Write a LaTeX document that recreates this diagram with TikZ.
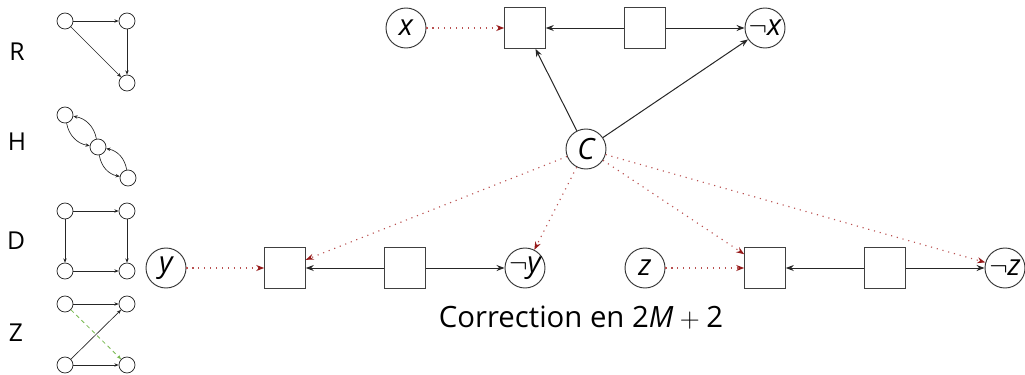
\documentclass[tikz,border=0pt]{standalone}
\usepackage{fontspec}
\setmainfont{Open Sans}
\usetikzlibrary{arrows.meta}
\definecolor{dred}{RGB}{150,25,25}
\definecolor{lred}{RGB}{185,80,80}
\definecolor{lgreen}{RGB}{120,185,80}
\begin{document}
\begin{tikzpicture}[x=0.75pt,y=-0.75pt,
  var/.style={circle, draw=black!80, line width=0.7pt, minimum size=30pt, inner sep=0pt, font=\fontsize{22}{26}\selectfont\itshape},
  gbox/.style={draw=black!75, line width=0.7pt, minimum size=30.5pt, inner sep=0pt},
  sm/.style={circle, draw=black!85, line width=0.55pt, minimum size=12pt, inner sep=0pt},
  lbl/.style={font=\fontsize{18.5}{22}\selectfont},
  arr/.style={draw=black!85, line width=0.75pt, -{Stealth[length=6pt,width=4.5pt]}},
  rdot/.style={draw=lred, line width=0.85pt, dash pattern=on 0.85pt off 3.6pt, -{Stealth[length=6pt,width=4.5pt,color=dred]}},
  sarr/.style={draw=black!85, line width=0.5pt, -{Stealth[length=3.2pt,width=2.6pt]}},
  gdash/.style={draw=lgreen, line width=0.6pt, dash pattern=on 3pt off 2.5pt, -{Stealth[length=3.2pt,width=2.6pt]}}
]
\useasboundingbox (0,0) rectangle (1025,375);
% left labels
\node[lbl] (lR) at (17,52) {R};
\node[lbl] (lH) at (17,142) {H};
\node[lbl] (lD) at (16,241) {D};
\node[lbl] (lZ) at (16,333) {Z};
% R
\node[sm] (r1) at (65,21) {};
\node[sm] (r2) at (127,21) {};
\node[sm] (r3) at (127,83) {};
\draw[sarr] (r1) -- (r2);
\draw[sarr] (r2) -- (r3);
\draw[sarr] (r1) -- (r3);
% H
\node[sm] (h1) at (65,115) {};
\node[sm] (h2) at (98,147) {};
\node[sm] (h3) at (128,178) {};
\draw[sarr] (h1) to[bend right=35] (h2);
\draw[sarr] (h2) to[bend right=35] (h1);
\draw[sarr] (h2) to[bend right=35] (h3);
\draw[sarr] (h3) to[bend right=35] (h2);
% D
\node[sm] (d1) at (65,211) {};
\node[sm] (d2) at (127,211) {};
\node[sm] (d3) at (65,271) {};
\node[sm] (d4) at (127,271) {};
\draw[sarr] (d1) -- (d2);
\draw[sarr] (d1) -- (d3);
\draw[sarr] (d2) -- (d4);
\draw[sarr] (d3) -- (d4);
% Z
\node[sm] (z1) at (65,304) {};
\node[sm] (z2) at (127,304) {};
\node[sm] (z3) at (65,365) {};
\node[sm] (z4) at (127,365) {};
\draw[sarr] (z1) -- (z2);
\draw[sarr] (z3) -- (z4);
\draw[sarr] (z3) -- (z2);
\draw[gdash] (z1) -- (z4);
% main top
\node[var] (x) at (406,28) {x};
\node[gbox] (bx1) at (525,28) {};
\node[gbox] (bx2) at (645,28) {};
\node[var] (nx) at (765,28) {$\neg$x};
\node[var] (C) at (586,149) {C};
% y row
\node[var] (y) at (166,268) {y};
\node[gbox] (by1) at (285,268) {};
\node[gbox] (by2) at (405,268) {};
\node[var] (ny) at (525,268) {$\neg$y};
% z row
\node[var] (z) at (645,268) {z};
\node[gbox] (bz1) at (765,268) {};
\node[gbox] (bz2) at (885,268) {};
\node[var] (nz) at (1005,268) {$\neg$z};
% connectors
\draw[rdot] (x) -- (bx1);
\draw[arr] (bx2) -- (bx1);
\draw[arr] (bx2) -- (nx);
\draw[arr] (C) -- (bx1);
\draw[arr] (C) -- (nx);
\draw[rdot] (y) -- (by1);
\draw[arr] (by2) -- (by1);
\draw[arr] (by2) -- (ny);
\draw[rdot] (z) -- (bz1);
\draw[arr] (bz2) -- (bz1);
\draw[arr] (bz2) -- (nz);
\draw[rdot] (C) -- (by1);
\draw[rdot] (C) -- (ny);
\draw[rdot] (C) -- (bz1);
\draw[rdot] (C) -- (nz);
% caption
\node[font=\fontsize{22}{26}\selectfont, anchor=base] (cap) at (581,327) {Correction en 2\textit{M}\hspace{0.22em}$+$\hspace{0.22em}2};
\end{tikzpicture}
\end{document}
